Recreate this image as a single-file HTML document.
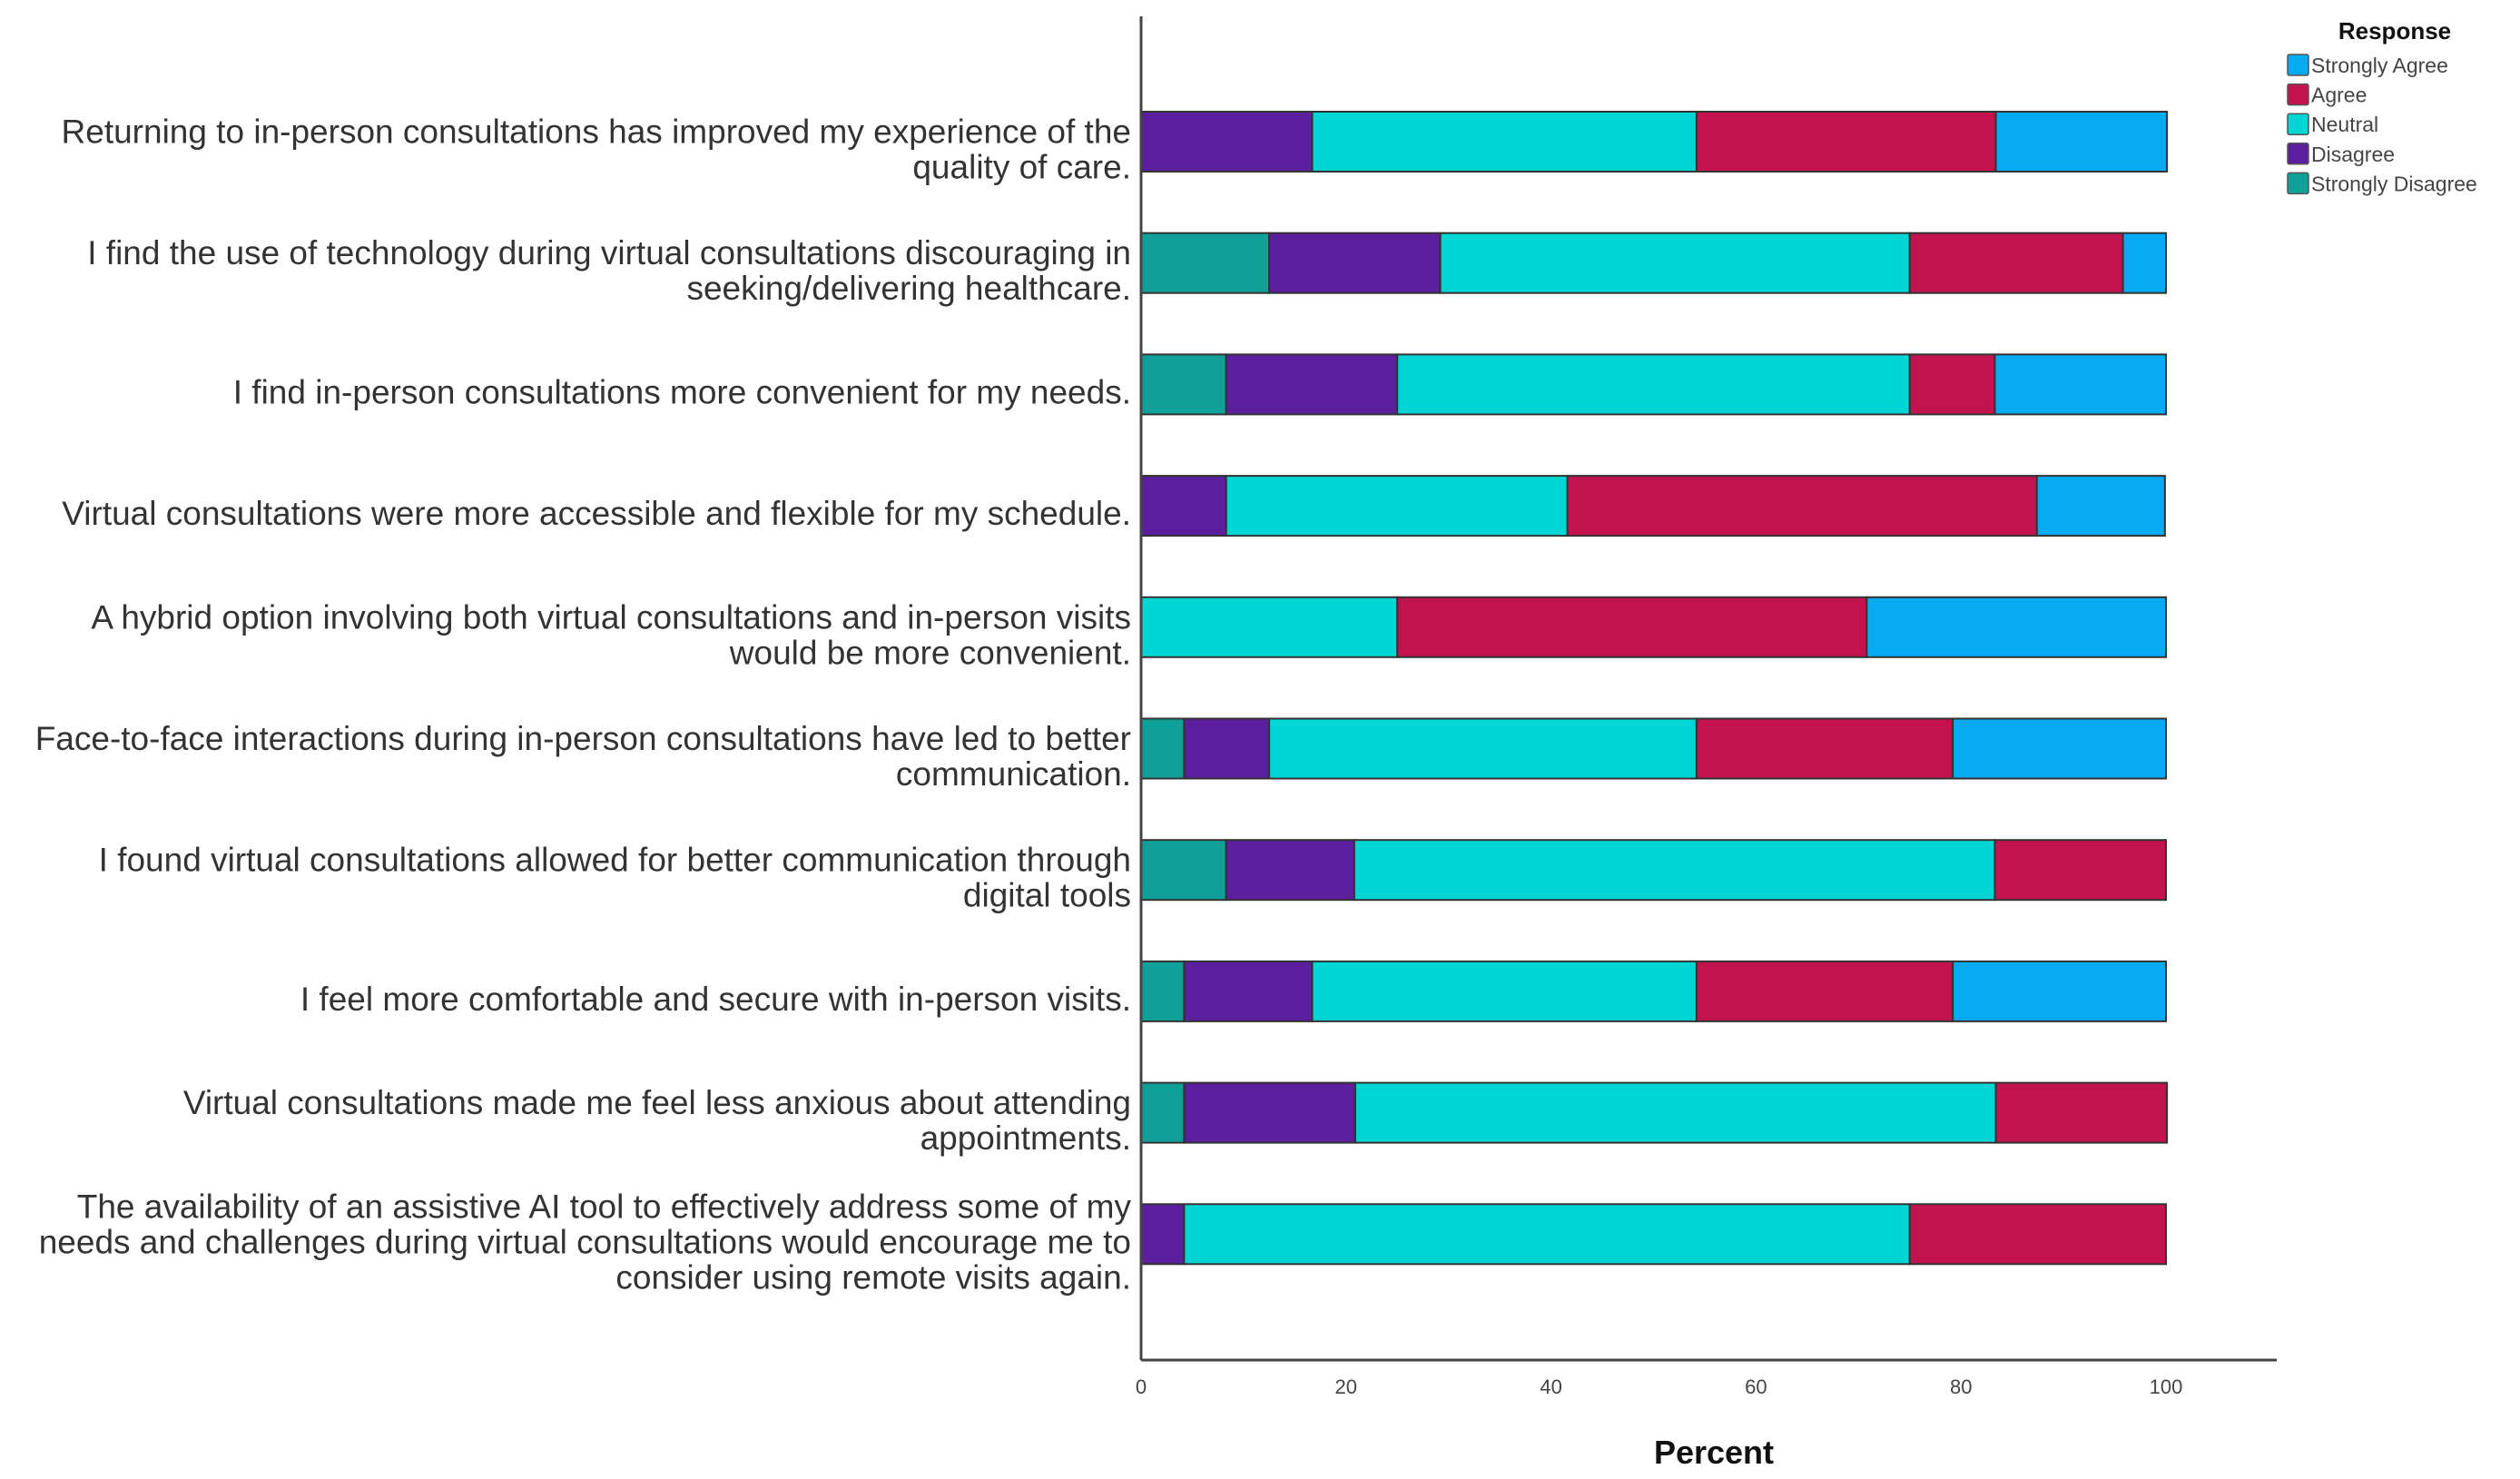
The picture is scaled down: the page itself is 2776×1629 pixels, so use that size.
<!DOCTYPE html>
<html><head><meta charset="utf-8"><style>
html,body{margin:0;padding:0;background:#fff;}
svg{display:block;font-family:"Liberation Sans",Arial,sans-serif;}
</style></head><body>
<svg id="chart" width="2776" height="1629" viewBox="0 0 2776 1629">
<g id="bars"></g>
<g id="labels"></g>
<g id="axes"></g>
<g id="legend"></g>
</svg>
<script>
const categories = [
 ["Returning to in-person consultations has improved my experience of the","quality of care."],
 ["I find the use of technology during virtual consultations discouraging in","seeking/delivering healthcare."],
 ["I find in-person consultations more convenient for my needs."],
 ["Virtual consultations were more accessible and flexible for my schedule."],
 ["A hybrid option involving both virtual consultations and in-person visits","would be more convenient."],
 ["Face-to-face interactions during in-person consultations have led to better","communication."],
 ["I found virtual consultations allowed for better communication through","digital tools"],
 ["I feel more comfortable and secure with in-person visits."],
 ["Virtual consultations made me feel less anxious about attending","appointments."],
 ["The availability of an assistive AI tool to effectively address some of my","needs and challenges during virtual consultations would encourage me to","consider using remote visits again."]
];
const seriesNames = ["Strongly Disagree","Disagree","Neutral","Agree","Strongly Agree"];
const stronglyDisagree = [0,12.5,8.3,0,0,4.2,8.3,4.2,4.2,0];
const disagree = [16.7,16.7,16.7,8.3,0,8.3,12.5,12.5,16.7,4.2];
const neutral = [37.5,45.8,50,33.3,25,41.7,62.5,37.5,62.5,70.8];
const agree = [29.2,20.8,8.3,45.8,45.8,25,16.7,25,16.7,25];
const stronglyAgree = [16.7,4.2,16.7,12.5,29.2,20.8,0,20.8,0,0];
const xTicks = [0,20,40,60,80,100];
const legendOrder = ["Strongly Agree","Agree","Neutral","Disagree","Strongly Disagree"];
const colors = {"Strongly Disagree":"#10a09a","Disagree":"#5b1e9c","Neutral":"#00d5d5","Agree":"#c2134f","Strongly Agree":"#05aaf2"};

const NS="http://www.w3.org/2000/svg";
const X0=1257, X100=2386, TOP=156, STEP=133.7, BH=66, AXB=1498;
const xs=v=>X0+(X100-X0)*v/100;
const yc=i=>TOP+STEP*i;
function mk(tag,attrs,parent){const e=document.createElementNS(NS,tag);for(const k in attrs)e.setAttribute(k,attrs[k]);parent.appendChild(e);return e;}
const series=[stronglyDisagree,disagree,neutral,agree,stronglyAgree];
const gb=document.getElementById('bars'), gl=document.getElementById('labels'), ga=document.getElementById('axes'), gg=document.getElementById('legend');
categories.forEach((lines,i)=>{
  let acc=0;
  series.forEach((arr,s)=>{
    const v=arr[i]; if(v<=0) return;
    const r=mk('rect',{x:xs(acc),y:yc(i)-BH/2,width:xs(acc+v)-xs(acc),height:BH,fill:colors[seriesNames[s]],stroke:"#333","stroke-width":2},gb);
    
    
    acc+=v;
  });
  const n=lines.length, lh=39, c=yc(i)+9;
  lines.forEach((ln,j)=>{
    const t=mk('text',{x:1246,y:c-(n-1)*lh/2+j*lh+12,"text-anchor":"end","font-size":37,fill:"#333"},gl);
    t.textContent=ln;
    
    
  });
});
const ya=mk('line',{x1:X0,y1:18,x2:X0,y2:AXB,stroke:"#444","stroke-width":3},ga);


const xa=mk('line',{x1:X0,y1:AXB,x2:2508,y2:AXB,stroke:"#444","stroke-width":3},ga);


xTicks.forEach(v=>{
  const t=mk('text',{x:xs(v),y:1535,"text-anchor":"middle","font-size":22,fill:"#444"},ga);
  t.textContent=v;
  
  
});
const xt=mk('text',{x:1888,y:1612,"text-anchor":"middle","font-size":36,"font-weight":"bold",fill:"#111"},ga);
xt.textContent="Percent";


const lt=mk('text',{x:2638,y:43,"text-anchor":"middle","font-size":26,"font-weight":"bold",fill:"#111"},gg);
lt.textContent="Response";


legendOrder.forEach((nm,k)=>{
  const y=71+k*32.6;
  const r=mk('rect',{x:2520,y:y-11,width:23,height:23,fill:colors[nm],stroke:"#555","stroke-width":1.5,rx:2},gg);
  
  
  const t=mk('text',{x:2546,y:y+9,"font-size":23,fill:"#444"},gg);
  t.textContent=nm;
  
  
});
</script>
</body></html>
